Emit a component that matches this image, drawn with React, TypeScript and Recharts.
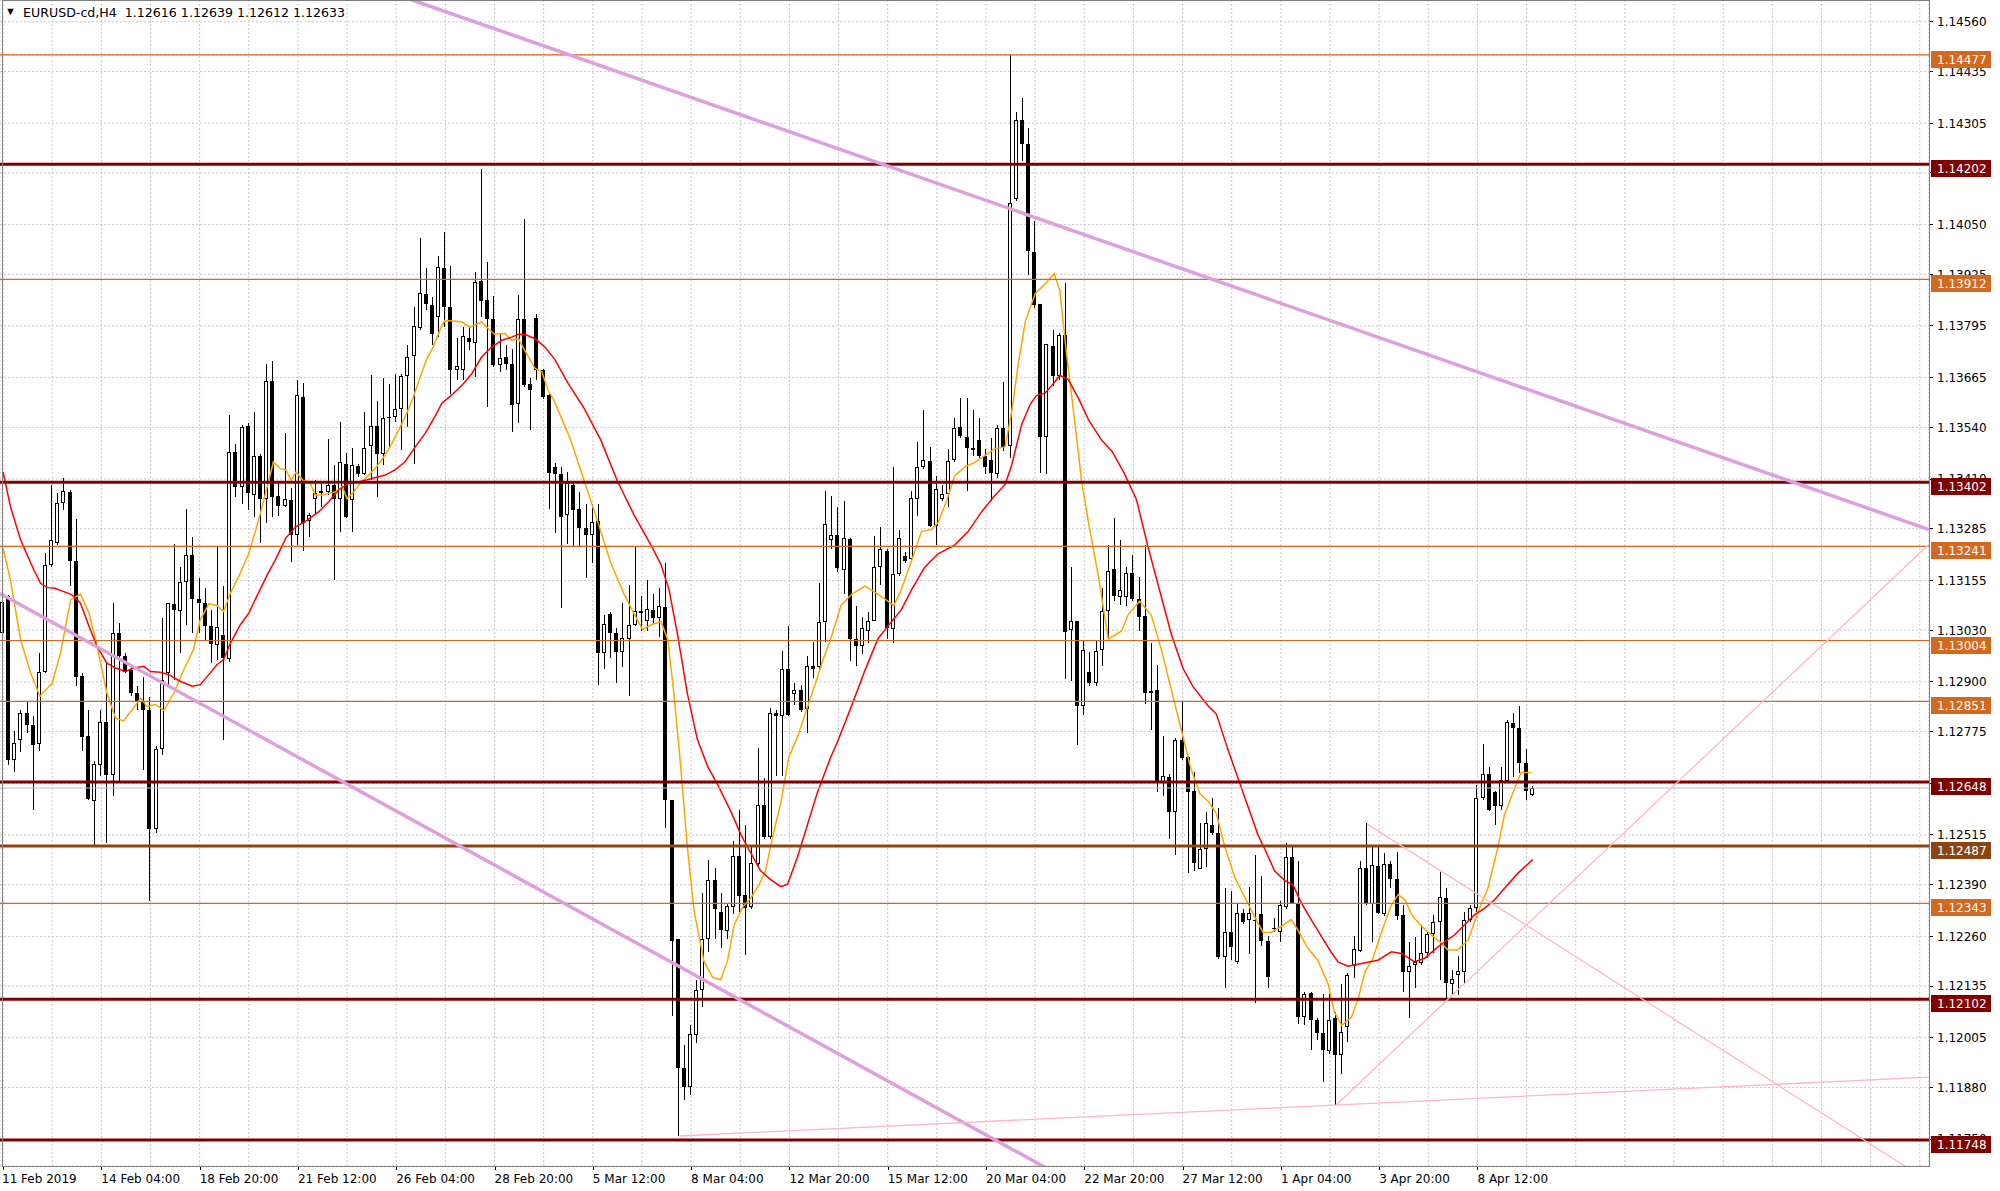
import React from 'react';
import { ComposedChart, Bar, Line, XAxis, YAxis, CartesianGrid, ReferenceLine } from 'recharts';

// H4 candles, bar 0 = 11 Feb 12:00
const opens = [
  1.13024, 1.13115, 1.12704, 1.12755, 1.12822, 1.12792, 1.12745, 1.12926, 1.13194, 1.13249,
  1.13349, 1.13378, 1.13204, 1.12914, 1.12763, 1.12600, 1.12692, 1.12798, 1.12667, 1.13023,
  1.12964, 1.12930, 1.12872, 1.12849, 1.12830, 1.12530, 1.12730, 1.12922, 1.13096, 1.13079,
  1.13152, 1.13219, 1.13108, 1.13098, 1.13041, 1.12993, 1.13017, 1.12958, 1.13479, 1.13391,
  1.13543, 1.13371, 1.13468, 1.13361, 1.13656, 1.13367, 1.13342, 1.13357, 1.13269, 1.13617,
  1.13305, 1.13361, 1.13380, 1.13378, 1.13395, 1.13359, 1.13449, 1.13357, 1.13443, 1.13424,
  1.13493, 1.13543, 1.13474, 1.13567, 1.13567, 1.13585, 1.13669, 1.13720, 1.13791, 1.13876,
  1.13849, 1.13818, 1.13941, 1.13844, 1.13684, 1.13684, 1.13766, 1.13752, 1.13908, 1.13860,
  1.13813, 1.13696, 1.13717, 1.13700, 1.13598, 1.13813, 1.13650, 1.13815, 1.13684, 1.13621,
  1.13440, 1.13423, 1.13320, 1.13394, 1.13335, 1.13286, 1.13269, 1.13305, 1.12972, 1.13071,
  1.13023, 1.12974, 1.13008, 1.13043, 1.13077, 1.13054, 1.13080, 1.13061, 1.13088, 1.12602,
  1.12254, 1.11929, 1.11880, 1.12012, 1.12125, 1.12254, 1.12402, 1.12322, 1.12274, 1.12334,
  1.12461, 1.12365, 1.12334, 1.12442, 1.12590, 1.12510, 1.12821, 1.12815, 1.12932, 1.12870,
  1.12880, 1.12832, 1.12940, 1.12938, 1.13050, 1.13257, 1.13269, 1.13182, 1.13259, 1.13008,
  1.12991, 1.13028, 1.13053, 1.13188, 1.13230, 1.13033, 1.13171, 1.13216, 1.13208, 1.13359,
  1.13441, 1.13455, 1.13291, 1.13359, 1.13373, 1.13458, 1.13542, 1.13516, 1.13489, 1.13508,
  1.13469, 1.13458, 1.13424, 1.13538, 1.13494, 1.14115, 1.14314, 1.14253, 1.13980, 1.13851,
  1.13516, 1.13744, 1.13669, 1.13772, 1.13030, 1.13053, 1.12839, 1.12926, 1.12896, 1.12980,
  1.13078, 1.13183, 1.13113, 1.13113, 1.13175, 1.13108, 1.13066, 1.12878, 1.12880, 1.12647,
  1.12661, 1.12572, 1.12754, 1.12711, 1.12626, 1.12429, 1.12479, 1.12541, 1.12519, 1.12208,
  1.12270, 1.12195, 1.12318, 1.12300, 1.12300, 1.12315, 1.12248, 1.12278, 1.12270, 1.12335,
  1.12459, 1.12345, 1.12058, 1.12118, 1.12050, 1.12018, 1.11972, 1.12055, 1.11962, 1.12032,
  1.12185, 1.12223, 1.12431, 1.12342, 1.12437, 1.12315, 1.12442, 1.12405, 1.12314, 1.12171,
  1.12188, 1.12192, 1.12217, 1.12265, 1.12296, 1.12356, 1.12139, 1.12164, 1.12171, 1.12301,
  1.12331, 1.12609, 1.12669, 1.12624, 1.12588, 1.12651, 1.12796, 1.12785, 1.12697, 1.12616,
];
const highs = [
  1.13215, 1.13119, 1.12777, 1.12830, 1.12851, 1.12813, 1.12972, 1.13225, 1.13394, 1.13374,
  1.13412, 1.13382, 1.13310, 1.12922, 1.12830, 1.12700, 1.12830, 1.12947, 1.13098, 1.13049,
  1.12972, 1.12946, 1.12889, 1.12912, 1.12862, 1.12738, 1.13060, 1.13098, 1.13247, 1.13190,
  1.13336, 1.13265, 1.13161, 1.13136, 1.13081, 1.13240, 1.13141, 1.13571, 1.13499, 1.13545,
  1.13551, 1.13579, 1.13474, 1.13700, 1.13707, 1.13400, 1.13525, 1.13387, 1.13660, 1.13652,
  1.13324, 1.13407, 1.13400, 1.13512, 1.13445, 1.13554, 1.13476, 1.13487, 1.13449, 1.13579,
  1.13671, 1.13607, 1.13664, 1.13650, 1.13673, 1.13673, 1.13748, 1.13843, 1.14017, 1.13941,
  1.13869, 1.13970, 1.14031, 1.13945, 1.13765, 1.13792, 1.13792, 1.13931, 1.14190, 1.13956,
  1.13870, 1.13777, 1.13747, 1.13738, 1.13874, 1.14064, 1.13663, 1.13826, 1.13688, 1.13625,
  1.13451, 1.13440, 1.13428, 1.13405, 1.13377, 1.13348, 1.13348, 1.13348, 1.13069, 1.13075,
  1.13035, 1.13098, 1.13143, 1.13240, 1.13115, 1.13155, 1.13120, 1.13137, 1.13200, 1.12602,
  1.12254, 1.11986, 1.12037, 1.12151, 1.12368, 1.12453, 1.12431, 1.12368, 1.12345, 1.12499,
  1.12578, 1.12539, 1.12487, 1.12733, 1.12659, 1.12835, 1.12830, 1.12978, 1.13041, 1.12898,
  1.12892, 1.12966, 1.13001, 1.13149, 1.13379, 1.13368, 1.13340, 1.13356, 1.13261, 1.13092,
  1.13064, 1.13075, 1.13266, 1.13289, 1.13233, 1.13441, 1.13283, 1.13227, 1.13379, 1.13502,
  1.13583, 1.13491, 1.13418, 1.13396, 1.13486, 1.13564, 1.13615, 1.13615, 1.13583, 1.13564,
  1.13486, 1.13514, 1.13547, 1.13654, 1.14477, 1.14334, 1.14368, 1.14292, 1.14059, 1.13851,
  1.13750, 1.13784, 1.13778, 1.13902, 1.13190, 1.13053, 1.13002, 1.12974, 1.13002, 1.13137,
  1.13244, 1.13313, 1.13258, 1.13188, 1.13218, 1.13163, 1.13243, 1.12998, 1.12943, 1.12764,
  1.12669, 1.12759, 1.12849, 1.12714, 1.12674, 1.12544, 1.12574, 1.12609, 1.12584, 1.12381,
  1.12374, 1.12342, 1.12330, 1.12384, 1.12464, 1.12411, 1.12260, 1.12305, 1.12348, 1.12494,
  1.12484, 1.12449, 1.12120, 1.12120, 1.12055, 1.12115, 1.12115, 1.12070, 1.12140, 1.12167,
  1.12260, 1.12449, 1.12544, 1.12484, 1.12484, 1.12469, 1.12449, 1.12472, 1.12339, 1.12245,
  1.12259, 1.12289, 1.12272, 1.12314, 1.12422, 1.12381, 1.12175, 1.12211, 1.12322, 1.12339,
  1.12640, 1.12743, 1.12686, 1.12626, 1.12686, 1.12804, 1.12821, 1.12840, 1.12731, 1.12639,
];
const lows = [
  1.12966, 1.12692, 1.12673, 1.12724, 1.12771, 1.12577, 1.12725, 1.12922, 1.13190, 1.13244,
  1.13332, 1.13140, 1.12889, 1.12725, 1.12604, 1.12487, 1.12663, 1.12495, 1.12612, 1.12646,
  1.12922, 1.12864, 1.12830, 1.12679, 1.12348, 1.12520, 1.12717, 1.12893, 1.12905, 1.12972,
  1.13043, 1.13023, 1.13023, 1.13006, 1.12947, 1.12956, 1.12755, 1.12950, 1.13366, 1.13347,
  1.13332, 1.13315, 1.13248, 1.13299, 1.13315, 1.13317, 1.13341, 1.13202, 1.13244, 1.13228,
  1.13265, 1.13320, 1.13340, 1.13370, 1.13156, 1.13278, 1.13311, 1.13278, 1.13416, 1.13420,
  1.13407, 1.13366, 1.13445, 1.13491, 1.13554, 1.13483, 1.13541, 1.13449, 1.13784, 1.13835,
  1.13746, 1.13767, 1.13792, 1.13625, 1.13659, 1.13659, 1.13734, 1.13667, 1.13818, 1.13592,
  1.13692, 1.13680, 1.13684, 1.13529, 1.13550, 1.13642, 1.13533, 1.13659, 1.13612, 1.13336,
  1.13275, 1.13086, 1.13246, 1.13240, 1.13240, 1.13160, 1.13200, 1.12892, 1.12932, 1.12961,
  1.12898, 1.12938, 1.12864, 1.13041, 1.13029, 1.13029, 1.13046, 1.13012, 1.12533, 1.12060,
  1.11758, 1.11849, 1.11860, 1.11991, 1.12083, 1.12220, 1.12254, 1.12231, 1.12254, 1.12317,
  1.12322, 1.12214, 1.12328, 1.12436, 1.12505, 1.12505, 1.12664, 1.12664, 1.12813, 1.12841,
  1.12824, 1.12772, 1.12909, 1.12932, 1.13001, 1.13233, 1.13177, 1.13120, 1.12952, 1.12940,
  1.12969, 1.12997, 1.13053, 1.13143, 1.13008, 1.12997, 1.13165, 1.13199, 1.13205, 1.13317,
  1.13435, 1.13289, 1.13244, 1.13356, 1.13339, 1.13452, 1.13514, 1.13381, 1.13469, 1.13463,
  1.13424, 1.13356, 1.13413, 1.13480, 1.13463, 1.14109, 1.14211, 1.13924, 1.13840, 1.13426,
  1.13422, 1.13643, 1.13660, 1.12907, 1.12901, 1.12740, 1.12817, 1.12890, 1.12890, 1.12940,
  1.13008, 1.13103, 1.13093, 1.13090, 1.13103, 1.13028, 1.12844, 1.12779, 1.12624, 1.12614,
  1.12504, 1.12464, 1.12704, 1.12419, 1.12424, 1.12429, 1.12434, 1.12514, 1.12202, 1.12130,
  1.12200, 1.12190, 1.12290, 1.12215, 1.12092, 1.12235, 1.12130, 1.12270, 1.12245, 1.12330,
  1.12342, 1.12040, 1.12038, 1.11975, 1.12000, 1.11895, 1.11965, 1.11836, 1.11915, 1.11995,
  1.12155, 1.12220, 1.12340, 1.12245, 1.12315, 1.12310, 1.12381, 1.12301, 1.12120, 1.12055,
  1.12129, 1.12188, 1.12205, 1.12217, 1.12150, 1.12104, 1.12112, 1.12112, 1.12141, 1.12297,
  1.12322, 1.12604, 1.12575, 1.12541, 1.12579, 1.12646, 1.12661, 1.12672, 1.12604, 1.12612,
];
const closes = [
  1.13102, 1.12704, 1.12746, 1.12822, 1.12792, 1.12742, 1.12926, 1.13194, 1.13257, 1.13349,
  1.13380, 1.13203, 1.12911, 1.12761, 1.12606, 1.12694, 1.12798, 1.12665, 1.13023, 1.12966,
  1.12926, 1.12872, 1.12851, 1.12830, 1.12529, 1.12731, 1.12905, 1.13098, 1.13081, 1.13152,
  1.13219, 1.13108, 1.13098, 1.13041, 1.12995, 1.13039, 1.12960, 1.13479, 1.13391, 1.13541,
  1.13374, 1.13468, 1.13361, 1.13656, 1.13366, 1.13342, 1.13359, 1.13269, 1.13621, 1.13299,
  1.13320, 1.13374, 1.13375, 1.13395, 1.13359, 1.13452, 1.13315, 1.13445, 1.13422, 1.13489,
  1.13543, 1.13474, 1.13564, 1.13564, 1.13585, 1.13670, 1.13717, 1.13794, 1.13878, 1.13851,
  1.13776, 1.13943, 1.13844, 1.13684, 1.13694, 1.13769, 1.13755, 1.13905, 1.13858, 1.13813,
  1.13696, 1.13715, 1.13700, 1.13596, 1.13813, 1.13646, 1.13634, 1.13684, 1.13617, 1.13426,
  1.13423, 1.13314, 1.13400, 1.13331, 1.13286, 1.13269, 1.13303, 1.12972, 1.13046, 1.13023,
  1.12974, 1.13010, 1.13044, 1.13077, 1.13073, 1.13083, 1.13061, 1.13092, 1.12602, 1.12248,
  1.11929, 1.11880, 1.12014, 1.12125, 1.12254, 1.12402, 1.12330, 1.12277, 1.12336, 1.12461,
  1.12362, 1.12331, 1.12445, 1.12590, 1.12510, 1.12822, 1.12815, 1.12932, 1.12817, 1.12879,
  1.12830, 1.12940, 1.12932, 1.13050, 1.13297, 1.13269, 1.13186, 1.13261, 1.13008, 1.12991,
  1.13036, 1.13053, 1.13188, 1.13233, 1.13036, 1.13171, 1.13261, 1.13205, 1.13362, 1.13441,
  1.13458, 1.13291, 1.13384, 1.13373, 1.13455, 1.13538, 1.13519, 1.13489, 1.13482, 1.13469,
  1.13440, 1.13426, 1.13538, 1.13491, 1.14104, 1.14314, 1.14253, 1.13984, 1.13848, 1.13516,
  1.13750, 1.13669, 1.13772, 1.13025, 1.13053, 1.12839, 1.12980, 1.12896, 1.12977, 1.13078,
  1.13179, 1.13115, 1.13130, 1.13175, 1.13108, 1.13063, 1.12871, 1.12873, 1.12647, 1.12664,
  1.12572, 1.12754, 1.12709, 1.12622, 1.12444, 1.12479, 1.12544, 1.12519, 1.12208, 1.12270,
  1.12232, 1.12320, 1.12297, 1.12318, 1.12298, 1.12248, 1.12157, 1.12280, 1.12338, 1.12459,
  1.12342, 1.12058, 1.12115, 1.12050, 1.12018, 1.11975, 1.12050, 1.11962, 1.12020, 1.12162,
  1.12227, 1.12431, 1.12342, 1.12439, 1.12320, 1.12441, 1.12404, 1.12312, 1.12171, 1.12186,
  1.12195, 1.12219, 1.12265, 1.12297, 1.12358, 1.12142, 1.12152, 1.12173, 1.12301, 1.12331,
  1.12609, 1.12669, 1.12577, 1.12588, 1.12652, 1.12800, 1.12783, 1.12697, 1.12625, 1.12633,
];

// moving averages: [bar position, price]
const maFast: [number, number][] = [
  [0, 1.13236], [1.2, 1.13156], [2.85, 1.13006], [4.5, 1.12922], [6, 1.12864], [8, 1.12897], [9.35, 1.12972],
  [11, 1.13106], [12.6, 1.13121], [14, 1.13073], [15.3, 1.12989], [16.9, 1.12872], [18.3, 1.12809], [19.6, 1.12802],
  [21, 1.1283], [22.4, 1.12859], [23.4, 1.12838], [24.8, 1.12843], [26.2, 1.12828], [27.8, 1.12872], [29.4, 1.1293],
  [31, 1.12981], [32.1, 1.13056], [33.5, 1.13096], [34.8, 1.13092], [35.9, 1.13077], [37, 1.13123], [38.6, 1.13173],
  [40, 1.13223], [41.6, 1.13307], [43, 1.13391], [44, 1.13453], [45.1, 1.13437], [46.1, 1.13432], [46.9, 1.13407],
  [47.7, 1.13428], [48.8, 1.13407], [49.9, 1.13403], [50.8, 1.1337], [51.9, 1.1337], [53, 1.13374], [54.1, 1.13378],
  [55.2, 1.13391], [56, 1.13361], [57.1, 1.13378], [58.1, 1.13399], [59.5, 1.1342], [60.8, 1.13441], [62.2, 1.1347],
  [63.3, 1.135], [64.4, 1.13533], [65.7, 1.13575], [66.8, 1.13617], [67.9, 1.13667], [69, 1.13713], [70, 1.13742],
  [71.1, 1.13784], [71.9, 1.13809], [73, 1.13808], [74.7, 1.13805], [76, 1.13792], [77.9, 1.13805], [79, 1.13788],
  [80, 1.13774], [81.7, 1.13776], [82.8, 1.13759], [83.9, 1.13763], [84.9, 1.13734], [86.6, 1.13688], [87.7, 1.1368],
  [88.7, 1.13634], [89.8, 1.13604], [92.4, 1.13508], [94.6, 1.13405], [96.8, 1.13303], [98.9, 1.132], [101.1, 1.1312],
  [103, 1.13063], [104.1, 1.13032], [105.4, 1.13043], [107.1, 1.13052], [108.2, 1.13006], [109.2, 1.1287], [110.3, 1.12687],
  [111.4, 1.12482], [112.5, 1.12322], [114.1, 1.12197], [115.5, 1.12157], [116.8, 1.12151], [117.9, 1.12197], [119, 1.12288],
  [120.4, 1.12334], [121.7, 1.12356], [123.1, 1.12391], [124.1, 1.12425], [125.2, 1.12505], [126.6, 1.12596], [127.9, 1.1271],
  [129.3, 1.12761], [130.9, 1.12835], [132.5, 1.12909], [133.6, 1.12961], [134.7, 1.13006], [136.4, 1.13092], [138.1, 1.1312],
  [140.3, 1.13141], [141.9, 1.13126], [143.5, 1.13109], [145, 1.13092], [146.2, 1.13132], [147.9, 1.13205], [149.5, 1.13278],
  [151.1, 1.13283], [152.2, 1.133], [153.6, 1.13356], [154.9, 1.13418], [156.6, 1.13441], [158.2, 1.13452], [159.8, 1.13469],
  [161.4, 1.13486], [163.1, 1.13491], [164.2, 1.13581], [165.3, 1.13705], [166.4, 1.13806], [168, 1.13876], [169.7, 1.13902],
  [171.1, 1.13927], [172, 1.13885], [173.1, 1.13727], [174.5, 1.13547], [175.6, 1.13401], [176.7, 1.133], [178.3, 1.13165],
  [179.9, 1.13008], [182.1, 1.13028], [183.1, 1.13068], [185, 1.13103], [186.9, 1.13068], [188.6, 1.12978], [190.2, 1.12878],
  [191.8, 1.12779], [193.4, 1.12679], [194.8, 1.12619], [196.2, 1.12599], [197.5, 1.12569], [198.9, 1.12484], [200.5, 1.12409],
  [202.1, 1.12359], [203.7, 1.1231], [205.1, 1.1227], [206.4, 1.1227], [208.1, 1.12285], [209.7, 1.12302], [210.8, 1.12275],
  [212.4, 1.1223], [214, 1.122], [215.7, 1.1214], [216.7, 1.1207], [217.9, 1.12036], [219.5, 1.12057], [220.6, 1.12104],
  [221.7, 1.12171], [223, 1.12205], [224.4, 1.12272], [226, 1.12339], [227.1, 1.12365], [228.2, 1.12352], [229.3, 1.12314],
  [230.9, 1.12285], [232.5, 1.12264], [234.1, 1.12243], [235.2, 1.12226], [236.8, 1.12226], [238.5, 1.12251], [240.1, 1.12322],
  [241.7, 1.12381], [243.3, 1.12482], [244.4, 1.12566], [246, 1.1263], [247.1, 1.12672], [248.8, 1.12672],
];
const maSlow: [number, number][] = [
  [0, 1.13428], [1.2, 1.13341], [2.85, 1.13257], [5, 1.13182], [6.1, 1.13148], [7.2, 1.13137], [8.3, 1.13136],
  [9.9, 1.13127], [11.2, 1.13119], [12.6, 1.13098], [14, 1.13039], [15.3, 1.12989], [16.9, 1.12947], [18.3, 1.12935],
  [19.9, 1.12926], [21.3, 1.12935], [22.9, 1.12939], [24, 1.12926], [25.6, 1.12924], [27, 1.12918], [28.9, 1.12901],
  [30.8, 1.12889], [32.1, 1.12893], [33.7, 1.12922], [34.8, 1.12943], [35.9, 1.12956], [37, 1.12997], [38.6, 1.13043],
  [40, 1.13073], [41.3, 1.13115], [43, 1.13169], [44.3, 1.13206], [46, 1.13261], [47.6, 1.1329], [49.2, 1.13303],
  [51.4, 1.13328], [53, 1.13353], [54.6, 1.13382], [56.2, 1.13399], [57.9, 1.13403], [59.5, 1.13409], [61.1, 1.13416],
  [62.2, 1.1342], [63.8, 1.13433], [65.4, 1.13453], [67.1, 1.13491], [68.7, 1.13525], [70.3, 1.13567], [71.4, 1.136],
  [73, 1.13621], [74.7, 1.13646], [76.3, 1.13675], [77.9, 1.13717], [79.5, 1.13742], [81.2, 1.13759], [82.8, 1.13767],
  [83.9, 1.13774], [84.9, 1.13774], [86.6, 1.13763], [88.2, 1.13742], [89.8, 1.13711], [92, 1.1365], [94.5, 1.1359],
  [97.3, 1.13508], [100, 1.13405], [102.7, 1.1332], [105.4, 1.13246], [107.1, 1.13195], [108.4, 1.13132], [109.8, 1.13018],
  [111.4, 1.1287], [113, 1.12756], [114.7, 1.12687], [116.3, 1.12642], [118.5, 1.12573], [120.1, 1.12516], [121.7, 1.1247],
  [123.3, 1.12425], [125, 1.12402], [126.6, 1.12385], [127.7, 1.12391], [129.3, 1.12459], [130.9, 1.12539], [132.5, 1.12619],
  [134.7, 1.1271], [135.9, 1.12752], [138.1, 1.12839], [140.3, 1.12929], [142.4, 1.13008], [144.1, 1.13042], [146.2, 1.13081],
  [147.9, 1.13132], [150, 1.13188], [152.2, 1.13222], [154.9, 1.13244], [157.1, 1.13278], [159.3, 1.13328], [161.4, 1.13368],
  [163.1, 1.13396], [164.2, 1.13446], [165.8, 1.13547], [167.2, 1.13598], [168.2, 1.1362], [169.6, 1.13626], [171.2, 1.13654],
  [172, 1.13671], [173.4, 1.1366], [175, 1.13615], [176.7, 1.13559], [178.8, 1.13508], [180.5, 1.1348], [182.5, 1.13425],
  [184.5, 1.13358], [186.4, 1.13238], [188.3, 1.13128], [190.2, 1.13018], [192.1, 1.12933], [193.7, 1.12888], [196.2, 1.12839],
  [197.5, 1.12819], [199.4, 1.12729], [201, 1.12659], [202.7, 1.12584], [204.3, 1.12514], [205.4, 1.12479], [207, 1.12424],
  [208.6, 1.12401], [210, 1.12389], [211.3, 1.12345], [213, 1.123], [214.6, 1.1226], [216.2, 1.1222], [217.3, 1.12196],
  [218.9, 1.12185], [221.1, 1.12192], [223.8, 1.122], [226, 1.12221], [227.6, 1.12217], [229.8, 1.12196], [231.4, 1.12205],
  [233, 1.12226], [234.7, 1.12247], [236.3, 1.12264], [237.9, 1.12289], [239.5, 1.12314], [241.2, 1.12331], [242.8, 1.12352],
  [244.4, 1.12381], [246.6, 1.12419], [249, 1.12453],
];

// horizontal levels and their price tags
const levelPrices = [1.14477, 1.14202, 1.13912, 1.13402, 1.13241, 1.13004, 1.12851, 1.12648, 1.12487, 1.12343, 1.12102, 1.11748];
const levelKinds = ['o', 'r', 'o', 'r', 'o', 'o', 'o', 'r', 'b', 'o', 'r', 'r'];
const bidPrice = 1.12633;

// trend lines: [x1, price1, x2, price2]
const channelLines = [
  [66, 1.14618, 313.5, 1.13283],
  [-0.5, 1.13122, 170, 1.11676],
];
const thinLines = [
  [110, 1.11758, 313.5, 1.11906],
  [217, 1.11836, 313.5, 1.13246],
  [222, 1.12543, 313.5, 1.11644],
];

const priceTicks = [1.1456, 1.14435, 1.14305, 1.1418, 1.1405, 1.13925, 1.13795, 1.13665, 1.1354, 1.1341, 1.13285, 1.13155,
  1.1303, 1.129, 1.12775, 1.12645, 1.12515, 1.1239, 1.1226, 1.12135, 1.12005, 1.1188, 1.1175];
const gridTicks = [0, 8, 16, 24, 32, 40, 48, 56, 64, 72, 80, 88, 96, 104, 112, 120, 128, 136, 144, 152, 160, 168, 176,
  184, 192, 200, 208, 216, 224, 232, 240, 248, 256, 264, 272, 280, 288, 296, 304, 312];
const timeTickIdx = [0, 16, 32, 48, 64, 80, 96, 112, 128, 144, 160, 176, 192, 208, 224, 240];
const timeTickText = ['11 Feb 2019', '14 Feb 04:00', '18 Feb 20:00', '21 Feb 12:00', '26 Feb 04:00', '28 Feb 20:00',
  '5 Mar 12:00', '8 Mar 04:00', '12 Mar 20:00', '15 Mar 12:00', '20 Mar 04:00', '22 Mar 20:00', '27 Mar 12:00',
  '1 Apr 04:00', '3 Apr 20:00', '8 Apr 12:00'];

const SLOTS = 314;
const PLOT_BOTTOM = 1166;
const FONT = '"DejaVu Sans", Tahoma, sans-serif';
const kindColor: Record<string, string> = { o: '#D2691E', r: '#800000', b: '#8B4513' };
const kindWidth: Record<string, number> = { o: 1.2, r: 3, b: 3 };

const rows = Array.from({ length: SLOTS }, (_, i) =>
  i < opens.length
    ? { i, o: opens[i], h: highs[i], l: lows[i], c: closes[i], range: [lows[i], highs[i]] }
    : { i, range: null }
);
const fastRows = maFast.map(([i, v]) => ({ i, v }));
const slowRows = maSlow.map(([i, v]) => ({ i, v }));
// axis labels first, tags after so they sit on top
const axisTicks = [...priceTicks, ...levelPrices];

function Candle(props: any) {
  const { x, y, width, height, payload } = props;
  if (!payload || payload.o == null) return null;
  const { o, h, l, c } = payload;
  const span = h - l;
  const py = (v: number) => (span > 0 ? y + ((h - v) / span) * height : y);
  const cx = Math.round(x + width / 2);
  const top = Math.round(py(Math.max(o, c)));
  const bot = Math.round(py(Math.min(o, c)));
  const yH = Math.round(y);
  const yL = Math.round(y + height);
  const bh = Math.max(1, bot - top);
  return (
    <g shapeRendering="crispEdges">
      <rect x={cx - 1} y={yH} width={1} height={Math.max(1, yL - yH)} fill="#000" />
      <rect x={cx - 3} y={top} width={4} height={bh} fill="#000" />
      {c > o && bh > 2 && <rect x={cx - 2} y={top + 1} width={2} height={bh - 2} fill="#fff" />}
    </g>
  );
}

function PriceTick(props: any) {
  const { x, y, payload } = props;
  const k = levelPrices.indexOf(payload.value);
  if (k >= 0) {
    // MT4 draws the object tag a little below its line
    const yy = Math.round(y);
    return (
      <g>
        <rect x={x - 6} y={yy - 4} width={60} height={17} fill={kindColor[levelKinds[k]]} shapeRendering="crispEdges" />
        <text x={x} y={yy + 4.5} dy="0.36em" fontSize={12} fontFamily={FONT} fill="#fff">
          {Number(payload.value).toFixed(5)}
        </text>
      </g>
    );
  }
  return (
    <g>
      <line x1={x - 8} x2={x - 4} y1={y} y2={y} stroke="#000" shapeRendering="crispEdges" />
      <text x={x} y={y} dy="0.36em" fontSize={12} fontFamily={FONT} fill="#000">
        {Number(payload.value).toFixed(5)}
      </text>
    </g>
  );
}

function TimeTick(props: any) {
  const { x, payload } = props;
  const k = timeTickIdx.indexOf(payload.value);
  if (k < 0) return null;
  const lx = Math.round(x) + 0.5;
  return (
    <g>
      <line x1={lx} x2={lx} y1={PLOT_BOTTOM} y2={PLOT_BOTTOM + 4} stroke="#000" shapeRendering="crispEdges" />
      <text x={k === 0 ? 2 : x} y={PLOT_BOTTOM + 17} fontSize={12} fontFamily={FONT} fill="#000">
        {timeTickText[k]}
      </text>
    </g>
  );
}

export default function App() {
  return (
    <div style={{ position: 'relative', width: 2000, height: 1191, background: '#fff' }}>
      <style>{'body{margin:0;background:#fff}'}</style>
      <ComposedChart width={2000} height={1191} data={rows} margin={{ top: 0, right: 0, bottom: 0, left: 0 }}>
        <XAxis xAxisId="cat" dataKey="i" type="category" hide />
        <XAxis
          xAxisId="num" dataKey="i" type="number" domain={[-0.5, 313.5]} allowDataOverflow
          ticks={gridTicks} interval={0} height={25} tick={<TimeTick />}
          tickSize={4} tickMargin={0} axisLine={false} tickLine={false}
        />
        <YAxis
          yAxisId="p" orientation="right" width={71} type="number" domain={[1.116825, 1.146148]} allowDataOverflow
          ticks={axisTicks} interval={0} tick={<PriceTick />} tickSize={4} tickMargin={4}
          axisLine={false} tickLine={false}
        />
        <CartesianGrid xAxisId="num" yAxisId="p" stroke="#c8c8c8" strokeDasharray="2 2" />
        <Bar xAxisId="cat" yAxisId="p" dataKey="range" barSize={4} shape={<Candle />} isAnimationActive={false} />
        <Line xAxisId="num" yAxisId="p" data={fastRows} dataKey="v" type="linear" stroke="#FFA500"
          strokeWidth={1.5} dot={false} activeDot={false} isAnimationActive={false} />
        <Line xAxisId="num" yAxisId="p" data={slowRows} dataKey="v" type="linear" stroke="#FF0000"
          strokeWidth={1.5} dot={false} activeDot={false} isAnimationActive={false} />
        <ReferenceLine xAxisId="num" yAxisId="p" y={bidPrice} stroke="#c0c0c0" strokeWidth={1} />
        {levelPrices.map((p, k) => (
          <ReferenceLine
            key={'lv' + k} xAxisId="num" yAxisId="p" y={p}
            stroke={kindColor[levelKinds[k]]} strokeWidth={kindWidth[levelKinds[k]]}
          />
        ))}
        {channelLines.map(([x1, y1, x2, y2], k) => (
          <ReferenceLine
            key={'ch' + k} xAxisId="num" yAxisId="p" ifOverflow="hidden"
            segment={[{ x: x1, y: y1 }, { x: x2, y: y2 }]} stroke="#DDA0DD" strokeWidth={3.5}
          />
        ))}
        {thinLines.map(([x1, y1, x2, y2], k) => (
          <ReferenceLine
            key={'tl' + k} xAxisId="num" yAxisId="p" ifOverflow="hidden"
            segment={[{ x: x1, y: y1 }, { x: x2, y: y2 }]} stroke="#FFB6C1" strokeWidth={1.3}
          />
        ))}
      </ComposedChart>
      <div
        style={{
          position: 'absolute', left: 2, top: 0, width: 1928, height: 1167, boxSizing: 'border-box',
          border: '1px solid #808080', pointerEvents: 'none',
        }}
      />
      <div style={{ position: 'absolute', left: 5, top: 5, fontSize: 11, lineHeight: '13px', color: '#000' }}>▼</div>
      <div
        style={{
          position: 'absolute', left: 23, top: 5, fontFamily: FONT, fontSize: 12.6, color: '#000',
          whiteSpace: 'pre', lineHeight: '15px',
        }}
      >
        {'EURUSD-cd,H4  1.12616 1.12639 1.12612 1.12633'}
      </div>
    </div>
  );
}
